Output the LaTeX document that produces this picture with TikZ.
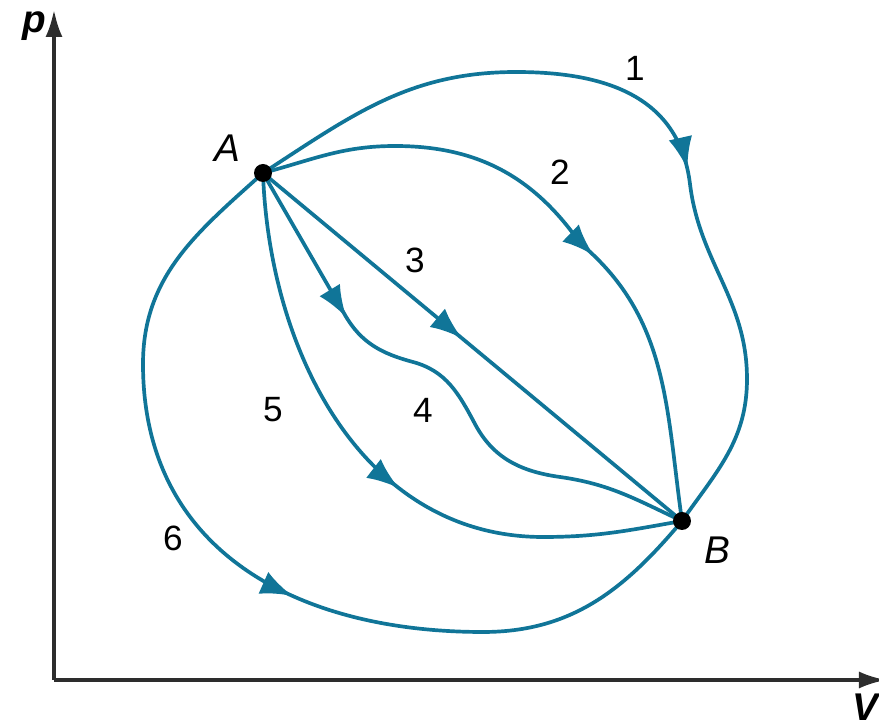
\documentclass[tikz,border=0pt]{standalone}
\usepackage{fontspec}
\setmainfont{Liberation Sans}
\usepackage{tikz}
\usetikzlibrary{arrows.meta, decorations.markings}
\definecolor{pathblue}{RGB}{16,117,152}
\definecolor{axisgray}{RGB}{45,45,45}
\tikzset{
  flow/.style={draw=pathblue, line width=1.05pt},
  arrowat/.style={postaction={decorate},
    decoration={markings, mark=at position #1 with {\arrow[pathblue]{Latex[length=3.2mm, width=2.4mm]}}}},
  axis/.style={draw=axisgray, line width=0.9pt, -{Latex[length=2.7mm, width=1.7mm]}},
  statedot/.style={fill=black},
  lbl/.style={font=\fontsize{10}{12}\selectfont, inner sep=0pt}
}

\begin{document}
\begin{tikzpicture}
  \useasboundingbox (0,0) rectangle (8.79,7.24);

  % Axes
  \coordinate (O) at (0.54,0.44);
  \coordinate (Ptop) at (0.54,7.14);
  \coordinate (Vend) at (8.86,0.44);
  \draw[axis] (O) -- (Ptop);
  \draw[axis] (O) -- (Vend);
  \node[lbl, font=\fontsize{11}{13}\selectfont\bfseries\itshape] (plbl) at (0.34,6.98) {p};
  \node[lbl, font=\fontsize{11}{13}\selectfont\bfseries\itshape] (vlbl) at (8.65,0.17) {V};

  % States A and B
  \coordinate (A) at (2.63,5.51);
  \coordinate (B) at (6.82,2.03);

  % Path 1
  \draw[flow, arrowat=0.565] (A) to[out=33, in=180] (5.16,6.52)
    to[out=0, in=97, looseness=1.1] (6.90,5.40)
    to[out=-83, in=90] (7.47,3.45)
    to[out=-90, in=55] (B);
  % Path 2
  \draw[flow, arrowat=0.565] (A) to[out=15, in=180] (3.95,5.78)
    to[out=0, in=125] (5.80,4.81)
    to[out=-40, in=98] (B);
  % Path 3
  \draw[flow, arrowat=0.475] (A) -- (B);
  % Path 4
  \draw[flow, arrowat=0.29] (A) -- (3.45,4.09)
    to[out=-60, in=165] (4.13,3.62)
    to[out=-15, in=118] (4.75,3.00)
    to[out=-62, in=172] (5.60,2.47)
    to[out=-8, in=155] (B);
  % Path 5
  \draw[flow, arrowat=0.545] (A) to[out=-88, in=180] (5.43,1.87)
    to[out=0, in=190] (B);
  % Path 6
  \draw[flow, arrowat=0.55] (A) to[out=-138, in=90] (1.43,3.60)
    to[out=-90, in=180, looseness=1.1] (4.83,0.92)
    to[out=0, in=-130] (B);

  % Dots
  \fill[statedot] (A) circle (0.09);
  \fill[statedot] (B) circle (0.09);
  \node[lbl, font=\fontsize{11}{13}\selectfont\itshape] (alabel) at (2.27,5.76) {A};
  \node[lbl, font=\fontsize{11}{13}\selectfont\itshape] (blabel) at (7.17,1.74) {B};

  % Path labels
  \node[lbl] (n1) at (6.35,6.56) {1};
  \node[lbl] (n2) at (5.60,5.52) {2};
  \node[lbl] (n3) at (4.15,4.64) {3};
  \node[lbl] (n4) at (4.23,3.14) {4};
  \node[lbl] (n5) at (2.73,3.14) {5};
  \node[lbl] (n6) at (1.73,1.86) {6};
\end{tikzpicture}
\end{document}
